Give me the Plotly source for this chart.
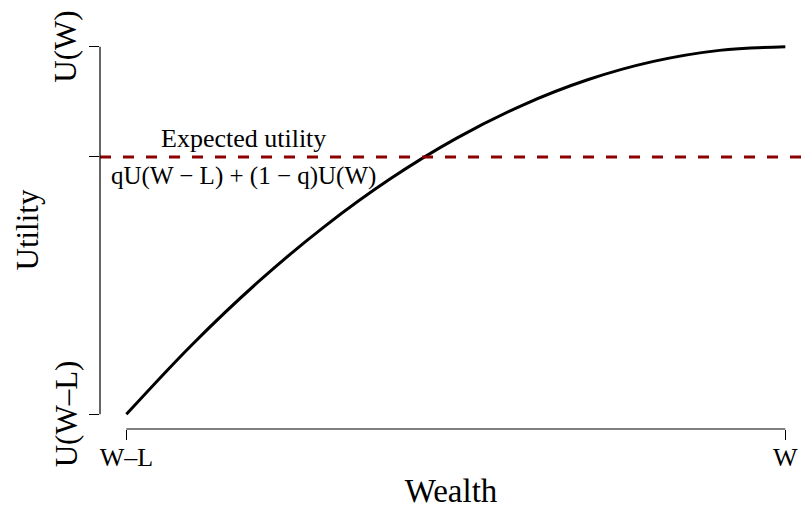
import plotly.graph_objects as go

# Wealth positions (0 = W-L, 1 = W) and utility of wealth along the concave curve
wealth = [0.0, 0.1, 0.2, 0.3, 0.4, 0.5, 0.6, 0.7, 0.8, 0.9, 1.0]
utility = [0.0, 0.19, 0.36, 0.51, 0.64, 0.75, 0.84, 0.91, 0.96, 0.99, 1.0]

# Expected utility level qU(W-L) + (1-q)U(W)
expected_utility = 0.70

x_tick_vals = [0, 1]
x_tick_text = ["W\u2013L", "W"]
y_tick_vals = [0, expected_utility, 1]
y_tick_text = ["U(W\u2013L)", "", "U(W)"]

SERIF = "Liberation Serif, Times New Roman, serif"

fig = go.Figure()

# expected-utility reference line across the plot
fig.add_hline(y=expected_utility, line=dict(color="#8B0000", width=3, dash="11px,12px"))

# utility curve
fig.add_trace(go.Scatter(
    x=wealth, y=utility, mode="lines",
    line=dict(color="black", width=3, shape="spline", smoothing=1.0),
    hoverinfo="skip", showlegend=False,
))

# axis lines spanning only the tick range
fig.add_shape(type="line", xref="x", yref="paper", x0=x_tick_vals[0], x1=x_tick_vals[-1],
              y0=0, y1=0, line=dict(color="black", width=1.2))
fig.add_shape(type="line", xref="paper", yref="y", x0=0, x1=0,
              y0=y_tick_vals[0], y1=y_tick_vals[-1], line=dict(color="black", width=1.2))

# rotated y tick labels
for val, txt in zip(y_tick_vals, y_tick_text):
    if txt:
        fig.add_annotation(xref="paper", x=0, y=val, text=txt, textangle=-90,
                           showarrow=False, xanchor="center", yanchor="middle", xshift=-34,
                           font=dict(family=SERIF, size=31, color="black"))

# y axis title
fig.add_annotation(xref="paper", yref="paper", x=0, y=0.5, text="Utility", textangle=-90,
                   showarrow=False, xanchor="center", yanchor="middle", xshift=-73,
                   font=dict(family=SERIF, size=31, color="black"))

# labels above and below the dashed line
fig.add_annotation(x=0.178, y=expected_utility, text="Expected utility",
                   showarrow=False, xanchor="center", yanchor="bottom", yshift=2,
                   font=dict(family=SERIF, size=26, color="black"))
fig.add_annotation(x=0.178, y=expected_utility, text="qU(W \u2212 L) + (1 \u2212 q)U(W)",
                   showarrow=False, xanchor="center", yanchor="top", yshift=-3,
                   font=dict(family=SERIF, size=25, color="black"))

fig.update_layout(
    width=802, height=509,
    margin=dict(l=100, r=0, t=32, b=80),
    paper_bgcolor="white", plot_bgcolor="white",
    font=dict(family=SERIF, color="black"),
    xaxis=dict(
        range=[-0.04, 1.0253], showgrid=False, zeroline=False, showline=False,
        tickmode="array", tickvals=x_tick_vals, ticktext=x_tick_text,
        ticks="outside", ticklen=10, tickwidth=1.2, tickcolor="black",
        ticklabelstandoff=-5,
        tickfont=dict(family=SERIF, size=26, color="black"),
        title=dict(text="Wealth", font=dict(family=SERIF, size=33, color="black"), standoff=7),
    ),
    yaxis=dict(
        range=[-0.04, 1.04], showgrid=False, zeroline=False, showline=False,
        tickmode="array", tickvals=y_tick_vals, ticktext=["", "", ""],
        ticks="outside", ticklen=10, tickwidth=1.2, tickcolor="black",
    ),
)

fig.write_html("out.html")
